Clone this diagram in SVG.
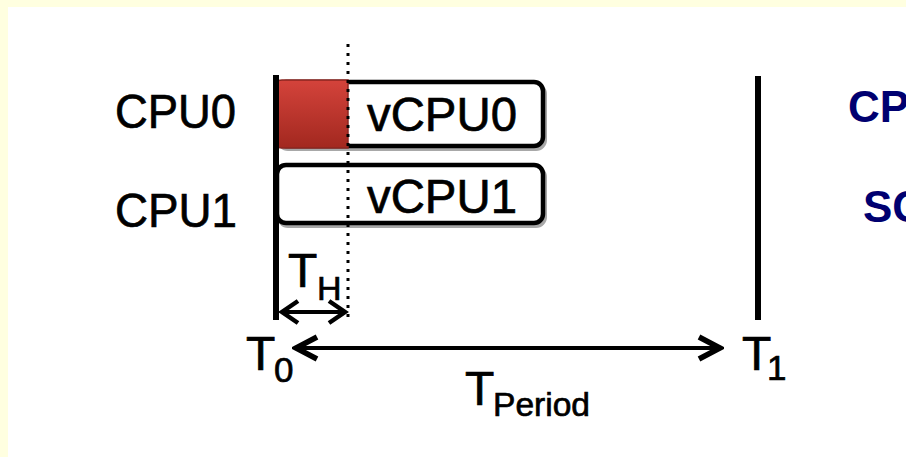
<svg xmlns="http://www.w3.org/2000/svg" width="906" height="457" viewBox="0 0 906 457">
<style>
.lbl{font-family:"Liberation Sans",Arial,sans-serif;fill:#000;stroke:#000;stroke-width:0.7px;}
.big{font-size:48px;}
.sub{font-size:35px;}
.nav{font-family:"Liberation Sans",Arial,sans-serif;font-weight:bold;font-size:44px;fill:#000070;}
.box{fill:#fff;stroke:#000;stroke-width:4.5;}
.shadow{fill:none;stroke:#a8a8a8;stroke-width:4;}
.ax{stroke:#000;stroke-width:6;fill:none;}
.arr{stroke:#000;fill:none;}
</style>
<defs>
<linearGradient id="red" x1="0" y1="0" x2="0" y2="1">
<stop offset="0" stop-color="#d4433b"/>
<stop offset="1" stop-color="#a2281f"/>
</linearGradient>
<marker id="hs" markerUnits="userSpaceOnUse" viewBox="-22 -15 26 30" markerWidth="26" markerHeight="30" refX="0" refY="0" orient="auto-start-reverse">
<path d="M-16,-11 L0,0 L-16,11" fill="none" stroke="#000" stroke-width="4.5"/>
</marker>
<marker id="hl" markerUnits="userSpaceOnUse" viewBox="-26 -16 30 32" markerWidth="30" markerHeight="32" refX="0" refY="0" orient="auto-start-reverse">
<path d="M-21,-11 L0,0 L-21,11" fill="none" stroke="#000" stroke-width="5.5"/>
</marker>
</defs>
<rect x="0" y="0" width="906" height="457" fill="#fff"/>
<rect x="0" y="0" width="906" height="7" fill="#ffffe0"/>
<rect x="0" y="0" width="8" height="457" fill="#ffffe0"/>

<g id="cpu0-label"><text class="lbl big" x="115" y="128" textLength="121" lengthAdjust="spacingAndGlyphs">CPU0</text></g>
<g id="cpu1-label"><text class="lbl big" x="115" y="227" textLength="122" lengthAdjust="spacingAndGlyphs">CPU1</text></g>

<g id="vcpu0">
<rect class="shadow" x="279" y="85" width="266" height="64" rx="9"/>
<rect class="box" x="277" y="82" width="266" height="64" rx="9"/>
<path d="M348,80 L282,80 Q274,80 274,88 L274,140 Q274,148 282,148 L348,148 Z" fill="url(#red)" stroke="#8a2620" stroke-width="1.5"/>
<text class="lbl big" x="367" y="131" textLength="150" lengthAdjust="spacingAndGlyphs">vCPU0</text>
</g>
<g id="vcpu1">
<rect class="shadow" x="279" y="168" width="266" height="58" rx="9"/>
<rect class="box" x="277" y="165" width="266" height="58" rx="9"/>
<text class="lbl big" x="367" y="213" textLength="150" lengthAdjust="spacingAndGlyphs">vCPU1</text>
</g>

<g id="timelines">
<line class="ax" x1="276" y1="75" x2="276" y2="320"/>
<line class="ax" x1="758" y1="76" x2="758" y2="320"/>
<line x1="348" y1="44" x2="348" y2="318" stroke="#000" stroke-width="3" stroke-dasharray="3 6"/>
</g>

<g id="connectors">
<line class="arr" x1="282" y1="312" x2="345" y2="312" stroke-width="4" marker-start="url(#hs)" marker-end="url(#hs)"/>
<line class="arr" x1="296" y1="348" x2="720" y2="348" stroke-width="4" marker-start="url(#hl)" marker-end="url(#hl)"/>
</g>

<g id="th-label"><text class="lbl big" x="288" y="287">T</text><text class="lbl" font-size="34" x="317" y="300">H</text></g>
<g id="t0-label"><text class="lbl big" x="246" y="370">T</text><text class="lbl sub" x="274" y="382">0</text></g>
<g id="t1-label"><text class="lbl big" x="742" y="370">T</text><text class="lbl sub" x="767" y="380">1</text></g>
<g id="tperiod-label"><text class="lbl big" x="465" y="405">T</text><text class="lbl" font-size="34" x="493" y="416" textLength="97" lengthAdjust="spacingAndGlyphs">Period</text></g>

<g id="side-text">
<text class="nav" x="848" y="122">CP</text>
<text class="nav" x="863" y="222">SC</text>
</g>
</svg>
